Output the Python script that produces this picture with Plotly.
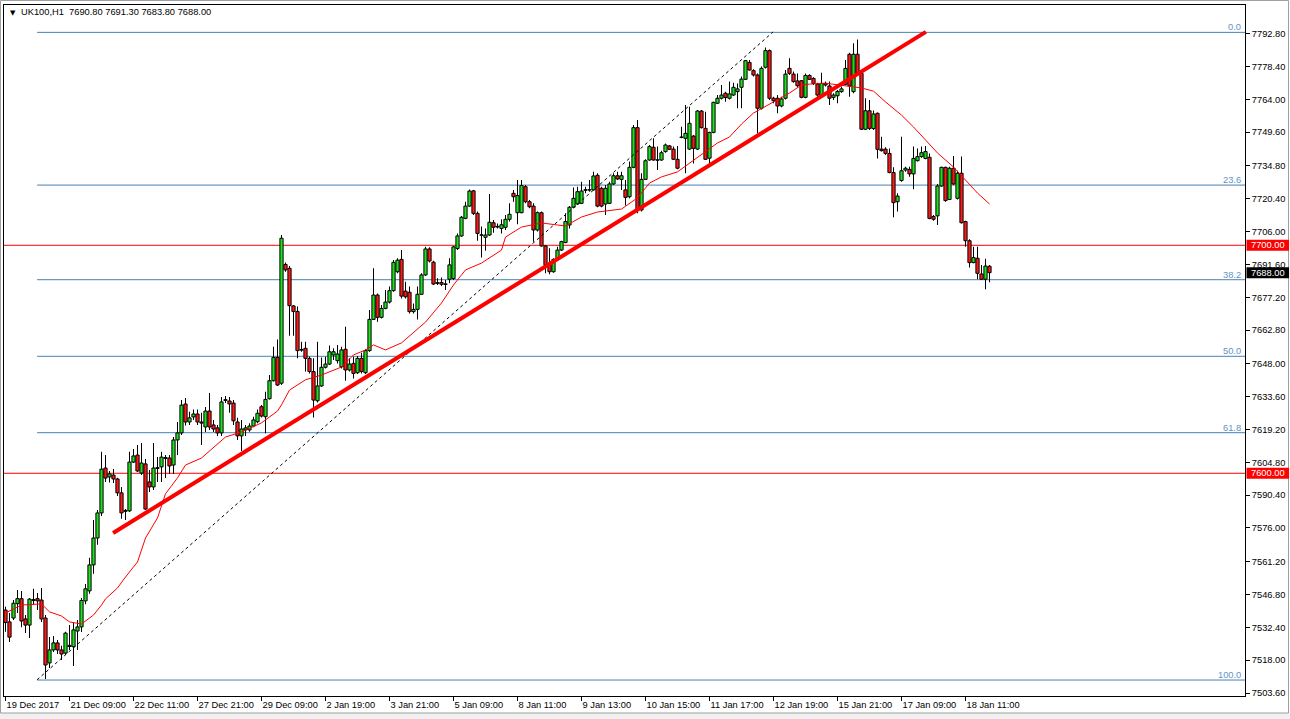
import plotly.graph_objects as go

# ---------------- data (UK100, H1) ----------------
open_ = [
    7540.0, 7534.8, 7536.5, 7542.8, 7545.0, 7536.1, 7533.4, 7544.2, 7545.0, 7544.4,
    7536.5, 7516.8, 7522.5, 7525.6, 7522.5, 7521.1, 7524.0, 7523.9, 7530.8, 7532.6,
    7544.0, 7548.4, 7559.8, 7571.6, 7582.6, 7602.3, 7598.4, 7599.2, 7597.5, 7591.4,
    7583.3, 7583.5, 7604.9, 7608.0, 7600.1, 7604.1, 7596.2, 7594.0, 7602.1, 7602.8,
    7606.5, 7606.7, 7603.6, 7614.6, 7617.7, 7630.4, 7622.5, 7624.7, 7626.0, 7622.5,
    7620.3, 7627.3, 7621.2, 7619.9, 7617.7, 7631.9, 7631.7, 7630.8, 7622.5, 7616.4,
    7619.0, 7619.0, 7620.7, 7622.6, 7629.2, 7624.8, 7632.7, 7640.6, 7650.8, 7639.5,
    7691.6, 7689.9, 7673.4, 7671.0, 7654.0, 7654.8, 7650.4, 7644.6, 7631.8, 7638.3,
    7646.5, 7647.9, 7651.9, 7649.4, 7646.7, 7654.4, 7645.3, 7648.2, 7644.1, 7650.4,
    7644.1, 7653.8, 7667.5, 7678.2, 7668.4, 7672.3, 7675.1, 7680.1, 7688.4, 7693.8,
    7679.9, 7679.4, 7670.9, 7671.9, 7678.5, 7687.0, 7698.4, 7692.6, 7683.6, 7683.7,
    7682.8, 7685.1, 7685.4, 7698.6, 7704.1, 7711.8, 7717.2, 7723.9, 7714.0, 7704.4,
    7703.5, 7704.5, 7709.9, 7708.0, 7707.4, 7707.9, 7711.4, 7722.8, 7714.3, 7714.3,
    7725.7, 7719.1, 7717.2, 7706.7, 7714.3, 7699.7, 7692.1, 7688.4, 7693.8, 7697.9,
    7701.2, 7708.9, 7716.7, 7718.1, 7718.4, 7724.1, 7724.2, 7724.3, 7730.7, 7725.0,
    7718.1, 7718.4, 7726.9, 7730.5, 7728.9, 7724.3, 7721.3, 7734.2, 7751.6, 7715.5,
    7728.9, 7737.4, 7743.0, 7737.3, 7737.4, 7741.1, 7743.6, 7742.2, 7737.7, 7747.3,
    7746.9, 7742.2, 7747.9, 7742.2, 7758.9, 7751.3, 7738.2, 7749.5, 7762.3, 7764.5,
    7766.7, 7764.5, 7765.9, 7767.4, 7769.3, 7772.8, 7780.2, 7776.6, 7774.7, 7760.1,
    7778.1, 7785.4, 7764.5, 7764.5, 7761.1, 7764.5, 7777.6, 7775.1, 7772.1, 7772.2,
    7764.9, 7774.5, 7773.2, 7770.7, 7765.6, 7771.0, 7769.9, 7764.9, 7765.6, 7767.4,
    7770.6, 7783.8, 7767.4, 7783.8, 7775.4, 7750.9, 7759.0, 7751.2, 7757.9, 7742.2,
    7742.2, 7740.3, 7731.9, 7719.1, 7728.4, 7733.0, 7733.3, 7731.3, 7737.1, 7738.9,
    7738.1, 7738.6, 7712.6, 7712.9, 7726.0, 7734.2, 7720.1, 7733.8, 7720.6, 7731.6,
    7710.4, 7702.0, 7692.4, 7694.3, 7687.4, 7685.1, 7690.8,
]
high = [
    7541.5, 7538.7, 7544.4, 7548.8, 7548.4, 7537.8, 7545.3, 7549.3, 7547.5, 7549.7,
    7537.8, 7528.2, 7528.6, 7526.9, 7524.3, 7530.5, 7533.4, 7534.3, 7535.6, 7545.3,
    7551.4, 7562.9, 7579.5, 7583.9, 7609.4, 7608.0, 7601.0, 7601.9, 7598.0, 7594.0,
    7584.3, 7609.4, 7610.6, 7612.4, 7613.3, 7606.3, 7601.4, 7613.3, 7607.1, 7609.4,
    7608.0, 7608.0, 7615.9, 7622.5, 7632.1, 7633.0, 7627.0, 7628.0, 7628.0, 7626.5,
    7629.1, 7635.2, 7623.4, 7621.2, 7633.4, 7633.9, 7633.4, 7632.1, 7624.3, 7623.4,
    7621.2, 7621.9, 7624.8, 7628.0, 7629.9, 7635.8, 7643.1, 7655.5, 7658.7, 7704.5,
    7692.4, 7690.9, 7673.8, 7673.1, 7657.7, 7657.7, 7651.2, 7650.4, 7657.7, 7650.8,
    7651.1, 7656.0, 7654.8, 7656.3, 7655.5, 7664.3, 7650.4, 7651.1, 7651.4, 7652.9,
    7654.4, 7671.6, 7689.9, 7678.9, 7673.8, 7680.4, 7681.9, 7693.5, 7694.3, 7697.9,
    7684.0, 7681.9, 7674.5, 7681.9, 7687.7, 7699.4, 7699.1, 7693.2, 7685.5, 7685.9,
    7684.8, 7694.3, 7699.7, 7705.2, 7712.9, 7719.1, 7724.5, 7724.3, 7714.8, 7708.2,
    7707.4, 7722.5, 7711.1, 7709.6, 7711.4, 7713.3, 7718.4, 7724.3, 7728.6, 7728.6,
    7726.4, 7719.9, 7718.4, 7714.8, 7714.8, 7700.1, 7698.7, 7694.3, 7699.4, 7702.0,
    7714.0, 7717.2, 7725.4, 7725.7, 7727.9, 7725.7, 7728.6, 7732.3, 7731.6, 7725.7,
    7726.4, 7727.9, 7731.6, 7732.3, 7732.3, 7728.6, 7736.7, 7752.8, 7755.0, 7731.6,
    7737.7, 7744.0, 7746.9, 7743.3, 7741.5, 7744.7, 7744.0, 7743.3, 7743.6, 7752.0,
    7761.5, 7760.8, 7748.4, 7759.3, 7759.3, 7758.6, 7749.8, 7763.0, 7765.9, 7770.3,
    7767.4, 7771.8, 7771.3, 7771.0, 7774.0, 7781.3, 7781.3, 7777.2, 7775.4, 7778.4,
    7786.8, 7785.9, 7765.2, 7765.9, 7765.2, 7776.9, 7782.0, 7776.2, 7775.4, 7772.5,
    7775.4, 7775.0, 7773.7, 7771.3, 7775.7, 7771.8, 7771.8, 7766.7, 7768.1, 7769.6,
    7781.3, 7784.5, 7788.6, 7790.3, 7776.2, 7764.5, 7763.7, 7759.1, 7758.2, 7747.6,
    7743.0, 7742.5, 7734.2, 7722.8, 7747.6, 7734.5, 7734.5, 7743.3, 7742.5, 7743.3,
    7743.6, 7740.3, 7713.3, 7726.9, 7734.5, 7734.5, 7734.5, 7739.2, 7732.7, 7738.9,
    7710.8, 7702.6, 7699.4, 7699.4, 7691.4, 7694.1, 7691.3,
]
low = [
    7530.5, 7526.0, 7535.6, 7538.7, 7532.5, 7529.9, 7527.7, 7542.2, 7540.0, 7534.8,
    7509.8, 7514.6, 7521.6, 7520.7, 7518.1, 7520.3, 7522.5, 7515.5, 7522.5, 7530.4,
    7542.6, 7547.1, 7555.9, 7568.6, 7581.3, 7596.2, 7596.0, 7595.7, 7590.0, 7580.0,
    7579.5, 7583.0, 7604.5, 7600.6, 7599.2, 7583.9, 7591.8, 7592.7, 7596.2, 7596.2,
    7597.9, 7599.7, 7599.7, 7608.0, 7616.8, 7621.0, 7621.2, 7623.4, 7621.2, 7612.4,
    7618.1, 7619.0, 7618.1, 7616.4, 7616.4, 7630.8, 7626.5, 7621.2, 7614.6, 7609.8,
    7616.4, 7618.2, 7620.2, 7621.9, 7624.5, 7617.5, 7632.4, 7640.2, 7638.3, 7638.7,
    7688.4, 7660.3, 7660.3, 7650.4, 7653.3, 7644.6, 7643.8, 7624.5, 7631.0, 7638.0,
    7646.0, 7647.5, 7649.7, 7648.2, 7646.0, 7640.6, 7644.6, 7641.6, 7643.5, 7643.8,
    7643.5, 7653.3, 7667.2, 7666.5, 7667.9, 7671.9, 7674.5, 7679.6, 7687.7, 7676.7,
    7676.7, 7670.1, 7670.1, 7667.5, 7678.2, 7686.5, 7692.4, 7682.6, 7682.6, 7682.1,
    7680.4, 7683.3, 7684.8, 7697.9, 7703.8, 7711.4, 7716.9, 7713.3, 7702.0, 7694.6,
    7697.6, 7704.1, 7705.5, 7707.4, 7705.2, 7706.7, 7710.4, 7719.1, 7709.2, 7714.0,
    7718.4, 7716.2, 7701.6, 7706.0, 7699.4, 7687.7, 7687.3, 7688.0, 7693.5, 7697.6,
    7700.9, 7707.4, 7716.2, 7717.7, 7718.1, 7722.8, 7723.5, 7724.0, 7716.7, 7716.7,
    7713.3, 7718.1, 7726.4, 7728.6, 7724.3, 7717.4, 7720.6, 7733.8, 7714.0, 7714.8,
    7728.6, 7737.1, 7737.1, 7733.0, 7737.1, 7740.6, 7741.8, 7737.4, 7733.3, 7746.9,
    7731.6, 7741.8, 7735.9, 7741.8, 7751.2, 7737.4, 7734.5, 7749.1, 7762.0, 7764.0,
    7763.0, 7764.0, 7765.5, 7760.1, 7760.1, 7772.5, 7776.6, 7774.0, 7749.1, 7759.6,
    7777.6, 7763.7, 7762.3, 7757.9, 7760.5, 7764.0, 7774.7, 7771.3, 7769.3, 7764.5,
    7764.5, 7772.5, 7770.3, 7765.2, 7765.2, 7769.6, 7761.5, 7763.7, 7762.3, 7766.9,
    7770.2, 7765.2, 7766.7, 7775.4, 7750.6, 7750.6, 7750.6, 7750.6, 7738.1, 7741.1,
    7739.6, 7731.6, 7712.3, 7714.8, 7727.9, 7732.3, 7730.1, 7724.6, 7736.7, 7738.4,
    7737.7, 7711.4, 7710.8, 7708.9, 7725.7, 7719.1, 7719.9, 7726.4, 7720.1, 7709.6,
    7699.4, 7690.3, 7692.1, 7685.1, 7684.8, 7680.7, 7683.8,
]
close = [
    7534.5, 7528.1, 7543.0, 7545.0, 7535.2, 7533.4, 7544.8, 7544.6, 7544.0, 7536.1,
    7515.9, 7522.5, 7525.6, 7522.5, 7520.7, 7529.9, 7524.5, 7531.3, 7532.6, 7544.2,
    7549.3, 7559.8, 7571.6, 7582.6, 7601.8, 7597.9, 7599.7, 7597.5, 7591.4, 7582.6,
    7583.7, 7604.9, 7607.6, 7601.0, 7604.5, 7584.3, 7594.0, 7602.3, 7602.5, 7607.1,
    7606.9, 7603.2, 7614.6, 7617.7, 7629.9, 7622.5, 7624.3, 7626.0, 7622.5, 7622.0,
    7627.3, 7620.3, 7619.4, 7617.7, 7631.3, 7632.3, 7630.4, 7623.0, 7616.4, 7619.4,
    7619.9, 7620.7, 7623.4, 7626.3, 7625.1, 7632.4, 7640.6, 7650.8, 7638.7, 7703.1,
    7689.2, 7673.5, 7670.9, 7653.8, 7654.3, 7650.4, 7644.6, 7632.1, 7638.3, 7646.5,
    7647.9, 7653.3, 7653.3, 7652.3, 7654.1, 7645.3, 7647.9, 7643.8, 7650.4, 7644.6,
    7653.8, 7667.5, 7678.2, 7668.4, 7672.3, 7675.1, 7680.1, 7692.5, 7693.5, 7677.7,
    7677.4, 7670.9, 7671.9, 7678.5, 7687.0, 7698.4, 7693.1, 7683.0, 7683.3, 7682.9,
    7683.1, 7691.4, 7699.3, 7704.1, 7712.3, 7717.2, 7723.8, 7714.0, 7705.2, 7704.6,
    7704.5, 7710.1, 7707.9, 7708.3, 7709.0, 7711.4, 7713.6, 7721.3, 7721.8, 7726.2,
    7719.1, 7716.9, 7706.7, 7714.3, 7699.7, 7691.4, 7688.4, 7693.8, 7697.9, 7701.6,
    7710.4, 7716.7, 7720.6, 7723.5, 7723.8, 7724.4, 7724.4, 7730.4, 7717.2, 7717.2,
    7725.0, 7726.9, 7730.5, 7729.1, 7730.5, 7721.0, 7734.2, 7751.6, 7715.5, 7728.9,
    7737.1, 7743.3, 7737.4, 7737.5, 7740.6, 7744.0, 7742.1, 7737.7, 7733.8, 7747.5,
    7749.1, 7753.5, 7742.5, 7758.9, 7751.6, 7737.7, 7749.5, 7762.7, 7764.5, 7765.9,
    7764.8, 7766.4, 7769.3, 7768.6, 7772.9, 7781.0, 7776.9, 7774.7, 7760.1, 7777.6,
    7785.4, 7764.5, 7763.4, 7761.1, 7764.2, 7775.1, 7775.4, 7771.8, 7770.0, 7764.9,
    7774.5, 7772.8, 7771.0, 7765.9, 7771.0, 7770.3, 7764.5, 7765.9, 7767.5, 7768.6,
    7777.6, 7769.9, 7783.8, 7775.7, 7750.9, 7759.0, 7751.3, 7757.6, 7742.1, 7741.5,
    7740.3, 7731.9, 7718.7, 7721.6, 7732.7, 7733.8, 7731.3, 7738.1, 7738.9, 7740.6,
    7741.1, 7711.8, 7711.4, 7726.0, 7734.2, 7719.6, 7733.8, 7726.9, 7731.6, 7709.9,
    7702.0, 7692.4, 7694.6, 7687.7, 7685.1, 7690.9, 7688.0,
]

# moving average (at sample bars)
ma_idx = [0, 4, 9, 11, 14, 16, 19, 22, 24, 25, 28, 30, 33, 35, 38, 40, 43, 45, 49, 52,
          55, 59, 64, 68, 69, 71, 75, 79, 84, 87, 90, 92, 95, 99, 102, 105, 109, 112, 115, 119,
          124, 125, 129, 134, 138, 140, 144, 148, 154, 158, 161, 164, 168, 171, 174, 178, 181, 184, 187, 192,
          196, 199, 201, 205, 209, 211, 214, 217, 220, 224, 227, 230, 233, 237, 240, 243, 246]
ma_val = [7538.7, 7542.2, 7542.7, 7539.2, 7537.4, 7534.8, 7533.9, 7537.8, 7542.2, 7544.9,
          7549.7, 7554.5, 7561.1, 7571.6, 7580.4, 7591.0, 7598.0, 7603.6, 7606.7, 7611.1,
          7615.9, 7618.1, 7622.1, 7627.3, 7630.0, 7636.5, 7641.0, 7643.1, 7646.6, 7651.9,
          7654.1, 7656.3, 7654.1, 7657.2, 7661.6, 7666.3, 7674.7, 7682.6, 7689.2, 7692.2,
          7697.9, 7703.6, 7708.0, 7709.8, 7708.9, 7708.5, 7712.4, 7714.6, 7715.9, 7720.8,
          7727.3, 7730.0, 7732.2, 7736.1, 7739.6, 7744.9, 7747.5, 7753.2, 7758.0, 7762.9,
          7766.8, 7770.3, 7770.7, 7771.1, 7770.3, 7769.8, 7769.0, 7767.6, 7762.9, 7757.1,
          7751.9, 7746.2, 7740.5, 7734.3, 7728.6, 7722.9, 7718.1]

# trend line (thick red) and fibonacci baseline (dashed)
trend_x = [26.9, 230.1]
trend_y = [7573.8, 7793.6]
fib_base_x = [7.9, 191.9]
fib_base_y = [7509.4, 7793.6]

fib_start = 7.9
fib_levels = [7793.4, 7726.4, 7684.9, 7651.3, 7617.8, 7509.3]
fib_labels = ["0.0", "23.6", "38.2", "50.0", "61.8", "100.0"]

hlines = [7700.0, 7600.0]
last_price = 7688.0

ytick_vals = [7792.8, 7778.4, 7764.0, 7749.6, 7734.8, 7720.4, 7706.0, 7691.6, 7677.2, 7662.8,
              7648.0, 7633.6, 7619.2, 7604.8, 7590.4, 7576.0, 7561.2, 7546.8, 7532.4, 7518.0, 7503.6]
xtick_idx = [0, 16, 32, 48, 64, 80, 96, 112, 128, 144, 160, 176, 192, 208, 224, 240]
xtick_text = ["19 Dec 2017", "21 Dec 09:00", "22 Dec 11:00", "27 Dec 21:00", "29 Dec 09:00",
              "2 Jan 19:00", "3 Jan 21:00", "5 Jan 09:00", "8 Jan 11:00", "9 Jan 13:00",
              "10 Jan 15:00", "11 Jan 17:00", "12 Jan 19:00", "15 Jan 21:00", "17 Jan 09:00",
              "18 Jan 11:00"]

title_text = "UK100,H1  7690.80 7691.30 7683.80 7688.00"

# ---------------- styling ----------------
FONT = "Liberation Sans, Arial, sans-serif"
FS = 9.3
FIB_COLOR = "#4682B4"
FIB_LABEL = "#5F93C6"
GREEN = "#1EE01E"
RED = "#FF1A1A"

X_RANGE = [-0.375, 309.875]
Y_RANGE = [7502.3, 7805.4]

idx = list(range(len(open_)))
body_base = [min(o, c) for o, c in zip(open_, close)]
body_len = [abs(c - o) for o, c in zip(open_, close)]
body_col = [GREEN if c >= o else RED for o, c in zip(open_, close)]
wick_len = [h - l for h, l in zip(high, low)]

fig = go.Figure()

# wicks (high-low) then bodies (open-close), MT4 style
fig.add_trace(go.Bar(x=idx, y=wick_len, base=low, width=0.25,
                     marker=dict(color="black", line=dict(width=0)),
                     hoverinfo="skip", showlegend=False))
fig.add_trace(go.Bar(x=idx, y=body_len, base=body_base, width=0.8,
                     marker=dict(color=body_col, line=dict(color="black", width=1)),
                     hoverinfo="skip", showlegend=False))

fig.add_trace(go.Scatter(x=ma_idx, y=ma_val, mode="lines",
                         line=dict(color="#FF0000", width=1), hoverinfo="skip", showlegend=False))
fig.add_trace(go.Scatter(x=fib_base_x, y=fib_base_y, mode="lines",
                         line=dict(color="black", width=1, dash="3px,3px"), hoverinfo="skip", showlegend=False))
fig.add_trace(go.Scatter(x=trend_x, y=trend_y, mode="lines",
                         line=dict(color="#FF0000", width=4), hoverinfo="skip", showlegend=False))

shapes = []
annotations = []
for lvl, lab in zip(fib_levels, fib_labels):
    shapes.append(dict(type="line", xref="x", yref="y", x0=fib_start, x1=X_RANGE[1], y0=lvl, y1=lvl,
                       line=dict(color=FIB_COLOR, width=1), layer="below"))
    annotations.append(dict(xref="paper", yref="y", x=0.9985, y=lvl, text=lab, showarrow=False,
                            xanchor="right", yanchor="bottom", yshift=-2,
                            font=dict(family=FONT, size=FS, color=FIB_LABEL)))
for hv in hlines:
    shapes.append(dict(type="line", xref="paper", yref="y", x0=0, x1=1, y0=hv, y1=hv,
                       line=dict(color="#FF0000", width=1), layer="below"))

# price tags on the right axis
pp = 0.4386  # price per pixel
for val, bg in [(hlines[0], "#FF0000"), (hlines[1], "#FF0000"), (last_price, "#000000")]:
    shapes.append(dict(type="rect", xref="paper", yref="y", x0=1.0012, x1=1.0355,
                       y0=val - 5.5 * pp, y1=val + 5.5 * pp, fillcolor=bg,
                       line=dict(width=0), layer="above"))
    annotations.append(dict(xref="paper", yref="y", x=1.0035, y=val, text=f"{val:.2f}",
                            showarrow=False, xanchor="left", yanchor="middle",
                            font=dict(family=FONT, size=FS, color="white")))

# title
annotations.append(dict(xref="paper", yref="paper", x=(8 - 4) / 1241, y=1 - (7 - 5) / 691,
                        text="▼", showarrow=False, xanchor="left", yanchor="top",
                        font=dict(family="DejaVu Sans", size=7, color="black")))
annotations.append(dict(xref="paper", yref="paper", x=(19 - 4) / 1241, y=1 - (5 - 5) / 691,
                        text=title_text, showarrow=False, xanchor="left", yanchor="top",
                        font=dict(family=FONT, size=FS, color="black")))

# window frame / bottom strip
shapes.append(dict(type="rect", xref="paper", yref="paper", x0=-4 / 1241, x1=1286 / 1241,
                   y0=(696 - 719) / 691, y1=(696 - 713) / 691, fillcolor="#F0F0F0",
                   line=dict(width=0), layer="below"))
shapes.append(dict(type="rect", xref="paper", yref="paper", x0=-3.5 / 1241, x1=1284.5 / 1241,
                   y0=(696 - 713) / 691, y1=(696 - 0.5) / 691, fillcolor="rgba(0,0,0,0)",
                   line=dict(width=1, color="#A0A0A0"), layer="below"))

fig.update_layout(
    width=1290, height=719,
    margin=dict(l=4, r=45, t=5, b=23, pad=0),
    paper_bgcolor="white", plot_bgcolor="white",
    showlegend=False, hovermode=False, barmode="overlay",
    shapes=shapes, annotations=annotations,
    font=dict(family=FONT, size=FS, color="black"),
    xaxis=dict(range=X_RANGE, showgrid=False, zeroline=False, showline=True, mirror=True,
               linecolor="black", linewidth=1, ticks="outside", ticklen=4, tickcolor="black",
               tickvals=xtick_idx, ticktext=xtick_text, ticklabelposition="outside right",
               tickangle=0, tickfont=dict(family=FONT, size=FS, color="black"),
               automargin=False, fixedrange=True),
    yaxis=dict(range=Y_RANGE, side="right", showgrid=False, zeroline=False, showline=True,
               mirror=True, linecolor="black", linewidth=1, ticks="outside", ticklen=4,
               tickcolor="black", tickvals=ytick_vals, ticktext=[f"{v:.2f}" for v in ytick_vals],
               tickfont=dict(family=FONT, size=FS, color="black"), automargin=False, fixedrange=True),
)

fig.write_html("out.html", config={"displayModeBar": False, "staticPlot": True},
               post_script="document.body.style.margin='0';document.body.style.overflow='hidden';")
